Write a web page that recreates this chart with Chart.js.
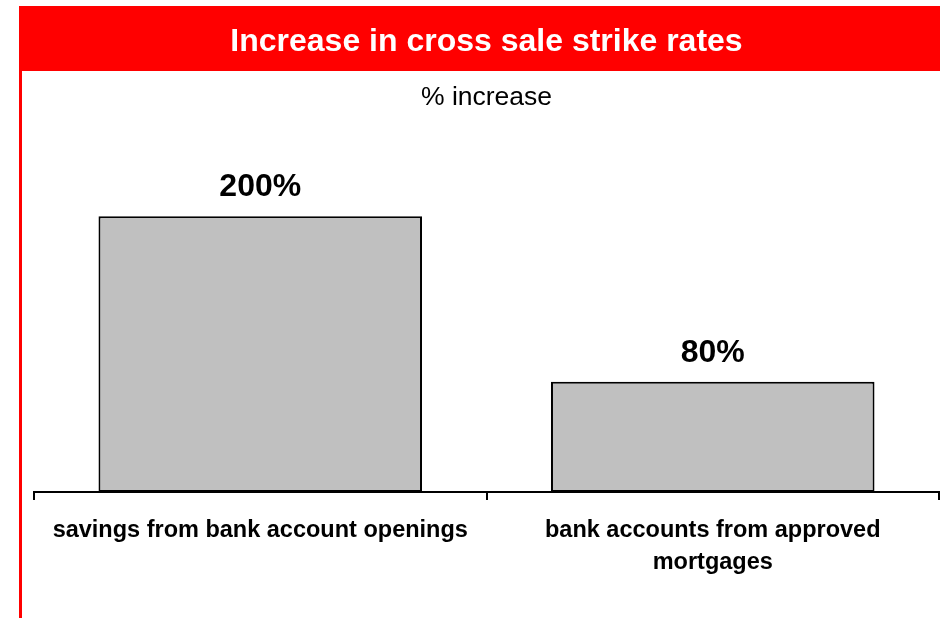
<!DOCTYPE html>
<html>
<head>
<meta charset="utf-8">
<script src="https://cdn.jsdelivr.net/npm/chart.js@4"></script>
<style>
  html, body { margin: 0; padding: 0; background: #fff; }
  #wrap { width: 940px; height: 618px; position: relative; }
</style>
</head>
<body>
<div id="wrap"><canvas id="myChart"></canvas></div>
<script>
const titleText = 'Increase in cross sale strike rates';
const subtitleText = '% increase';
const categories = [
  'savings from bank account openings',
  ['bank accounts from approved', 'mortgages']
];
const increases = [200, 80];

const FONT = '"Liberation Sans", Arial, sans-serif';

// red header band and the red rule down the left side
const frame = {
  id: 'frame',
  beforeDraw(chart) {
    const ctx = chart.ctx;
    ctx.save();
    ctx.fillStyle = '#fff';
    ctx.fillRect(0, 0, chart.width, chart.height);
    ctx.fillStyle = '#ff0000';
    ctx.fillRect(19, 6, chart.width - 19, 65);
    ctx.fillRect(19, 6, 3, chart.height - 6);
    ctx.restore();
  }
};

// value labels above each bar
const valueLabels = {
  id: 'valueLabels',
  afterDatasetsDraw(chart) {
    const ctx = chart.ctx;
    const meta = chart.getDatasetMeta(0);
    ctx.save();
    ctx.font = 'bold 32px ' + FONT;
    ctx.fillStyle = '#000';
    ctx.textAlign = 'center';
    ctx.textBaseline = 'alphabetic';
    meta.data.forEach((bar, i) => {
      ctx.fillText(increases[i] + '%', bar.x, bar.y - 20);
    });
    ctx.restore();
  }
};

const ctx = document.getElementById('myChart').getContext('2d');
const chart = new Chart(ctx, {
  type: 'bar',
  data: {
    labels: categories,
    datasets: [{
      data: increases,
      backgroundColor: '#c0c0c0',
      borderColor: '#000',
      borderWidth: 2,
      borderSkipped: false,
      barPercentage: 0.715,
      categoryPercentage: 1
    }]
  },
  options: {
    responsive: true,
    maintainAspectRatio: false,
    animation: false,
    layout: { padding: { left: 34, right: 1, top: 0, bottom: 26 } },
    plugins: {
      legend: { display: false },
      tooltip: { enabled: false },
      title: {
        display: true,
        text: titleText,
        color: '#fff',
        font: { family: FONT, size: 32, weight: 'bold' },
        padding: { top: 23, bottom: 20 }
      },
      subtitle: {
        display: true,
        text: subtitleText,
        color: '#000',
        font: { family: FONT, size: 26.5 },
        padding: { top: 0, bottom: 34 }
      }
    },
    scales: {
      x: {
        offset: true,
        grid: {
          display: true,
          drawOnChartArea: false,
          drawTicks: true,
          tickLength: 8,
          color: '#000',
          lineWidth: 2
        },
        border: { display: true, color: '#000', width: 2 },
        ticks: {
          color: '#000',
          maxRotation: 0,
          autoSkip: false,
          padding: 14,
          font: { family: FONT, size: 23.5, weight: 'bold', lineHeight: 1.36 }
        }
      },
      y: {
        display: false,
        min: 0,
        max: 250
      }
    }
  },
  plugins: [frame, valueLabels]
});
</script>
</body>
</html>
